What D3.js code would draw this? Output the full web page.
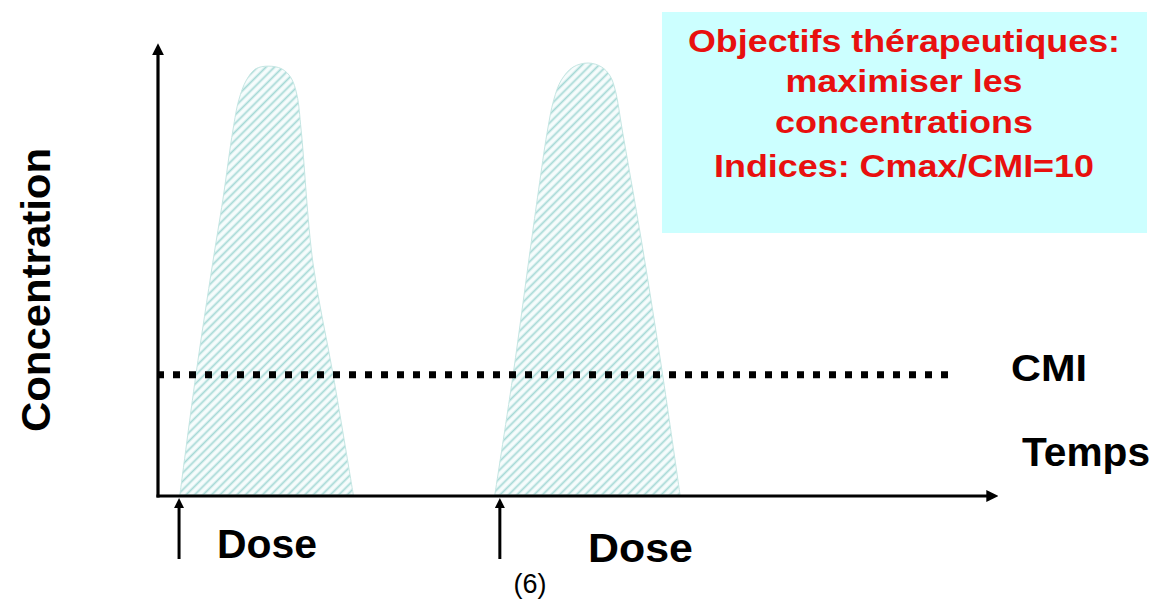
<!DOCTYPE html>
<html><head><meta charset="utf-8">
<script src="https://cdn.jsdelivr.net/npm/d3@7"></script>
<style>body{margin:0;background:#fff;overflow:hidden}</style>
</head><body>
<svg id="c" width="1162" height="605"></svg>
<script>
// ---- data (time in arbitrary units 0..100, concentration 0..100) ----
const peak1Time = [2.6, 4.5, 6.5, 7.7, 8.9, 9.6, 10.5, 11.6, 13.1, 14.7, 15.8, 16.5, 17.0, 18.4, 20.8, 23.2];
const peak1Conc = [0, 26.7, 51.6, 65.6, 81.1, 87.8, 92.2, 94.7, 95.3, 94.7, 92.7, 88.9, 81.1, 51.6, 26.7, 0];
const peak2Time = [40.0, 42.2, 44.2, 45.2, 46.2, 47.0, 47.9, 49.3, 51.1, 52.7, 53.7, 54.3, 55.2, 57.6, 59.9, 62.0];
const peak2Conc = [0, 27.1, 54.4, 67.8, 80.4, 87.8, 92.2, 95.1, 96.0, 95.1, 93.1, 90.0, 80.4, 54.4, 27.1, 0];
const cmiLevel = 26.7;
const cmiEndTime = 94.3;
const doseTimes = [2.5, 40.6];
const doseLabels = ["Dose", "Dose"];
const boxLines = ["Objectifs thérapeutiques:", "maximiser les", "concentrations", "Indices: Cmax/CMI=10"];
const yLabel = "Concentration";
const xLabel = "Temps";
const cmiLabel = "CMI";
const noteLabel = "(6)";

// ---- drawing ----
const svg = d3.select("#c");
const x = d3.scaleLinear().domain([0, 100]).range([158, 1000]);
const y = d3.scaleLinear().domain([0, 100]).range([495, 45]);
const FONT = "'Liberation Sans', Arial, sans-serif";

const defs = svg.append("defs");
const P = 6;
const pat = defs.append("pattern").attr("id", "hatch")
  .attr("patternUnits", "userSpaceOnUse").attr("width", P).attr("height", P)
  .attr("patternTransform", "rotate(45)");
pat.append("rect").attr("width", P).attr("height", P).attr("fill", "#f6fcfc");
pat.append("line").attr("x1", 1.5).attr("y1", 0).attr("x2", 1.5).attr("y2", P)
  .attr("stroke", "#a6d9d6").attr("stroke-width", 1.8);

function marker(id, size) {
  defs.append("marker").attr("id", id)
    .attr("viewBox", "0 0 12 12").attr("refX", 6).attr("refY", 6)
    .attr("markerWidth", size).attr("markerHeight", size)
    .attr("markerUnits", "userSpaceOnUse").attr("orient", "auto")
    .append("path").attr("d", "M0,0 L12,6 L0,12 Z").attr("fill", "#000");
}
marker("arrowBig", 12);
marker("arrowSmall", 10);

// peaks
const line = d3.line().x(d => x(d[0])).y(d => y(d[1])).curve(d3.curveCatmullRom.alpha(0.5));
[[peak1Time, peak1Conc], [peak2Time, peak2Conc]].forEach(([ts, cs]) => {
  const pts = ts.map((t, i) => [t, cs[i]]);
  svg.append("path").attr("d", line(pts) + "Z")
    .attr("fill", "url(#hatch)").attr("stroke", "#c5e6e3").attr("stroke-width", 1);
});

// CMI dotted line
svg.append("line")
  .attr("x1", x(0) - 1).attr("x2", x(cmiEndTime))
  .attr("y1", y(cmiLevel)).attr("y2", y(cmiLevel))
  .attr("stroke", "#000").attr("stroke-width", 7).attr("stroke-dasharray", "7 9");

// axes
svg.append("line").attr("x1", x(0)).attr("y1", y(0) + 2.5).attr("x2", x(0)).attr("y2", y(100.4) + 6)
  .attr("stroke", "#000").attr("stroke-width", 3.2).attr("marker-end", "url(#arrowBig)");
svg.append("line").attr("x1", x(0) - 1.5).attr("y1", y(0) + 1).attr("x2", x(99.8) - 6).attr("y2", y(0) + 1)
  .attr("stroke", "#000").attr("stroke-width", 3.2).attr("marker-end", "url(#arrowBig)");

// dose arrows
doseTimes.forEach(t => {
  svg.append("line").attr("x1", x(t)).attr("y1", 559).attr("x2", x(t)).attr("y2", 503)
    .attr("stroke", "#000").attr("stroke-width", 3).attr("marker-end", "url(#arrowSmall)");
});
const dosePos = [[217, 558, 100], [588, 562, 105]];
doseLabels.forEach((s, i) => {
  svg.append("text").attr("x", dosePos[i][0]).attr("y", dosePos[i][1])
    .attr("textLength", dosePos[i][2]).attr("lengthAdjust", "spacingAndGlyphs")
    .attr("font-family", FONT).attr("font-weight", "bold").attr("font-size", 40)
    .attr("fill", "#000").text(s);
});

// labels
svg.append("text").attr("transform", "translate(50,290) rotate(-90)")
  .attr("text-anchor", "middle").attr("font-family", FONT).attr("font-weight", "bold")
  .attr("font-size", 41).attr("textLength", 284).attr("lengthAdjust", "spacingAndGlyphs")
  .attr("fill", "#000").text(yLabel);
svg.append("text").attr("x", 1022).attr("y", 466)
  .attr("font-family", FONT).attr("font-weight", "bold").attr("font-size", 41)
  .attr("textLength", 128).attr("lengthAdjust", "spacingAndGlyphs")
  .attr("fill", "#000").text(xLabel);
svg.append("text").attr("x", 1011).attr("y", 381)
  .attr("font-family", FONT).attr("font-weight", "bold").attr("font-size", 36)
  .attr("textLength", 76).attr("lengthAdjust", "spacingAndGlyphs")
  .attr("fill", "#000").text(cmiLabel);
svg.append("text").attr("x", 530).attr("y", 593).attr("text-anchor", "middle")
  .attr("font-family", FONT).attr("font-size", 27).attr("fill", "#000").text(noteLabel);

// info box
svg.append("rect").attr("x", 662).attr("y", 12).attr("width", 485).attr("height", 221)
  .attr("fill", "#ccffff");
const lineBase = [52, 92, 133, 177];
const lineWidth = [432, 237, 258, 380];
boxLines.forEach((s, i) => {
  svg.append("text").attr("x", 904).attr("y", lineBase[i]).attr("text-anchor", "middle")
    .attr("font-family", FONT).attr("font-weight", "bold").attr("font-size", 32)
    .attr("textLength", lineWidth[i]).attr("lengthAdjust", "spacingAndGlyphs")
    .attr("fill", "#e8100f").text(s);
});
</script>
</body></html>
